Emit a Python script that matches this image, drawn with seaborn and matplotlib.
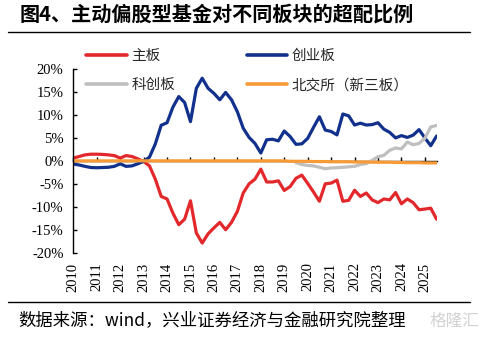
import numpy as np
import pandas as pd
import matplotlib
matplotlib.use("Agg")
import matplotlib.pyplot as plt
from matplotlib.lines import Line2D
import seaborn as sns

# Quarterly overweight ratios (%) of active equity funds by board, 2010Q1 onward
main_board = [0.6, 0.95, 1.3, 1.45, 1.45, 1.4, 1.3, 1.15, 0.6, 1.15, 0.95, 0.45,
              -0.15, -1.1, -4.0, -7.75, -8.3, -11.4, -13.9, -12.7, -8.7, -15.7,
              -17.9, -15.9, -14.6, -13.4, -15.0, -13.4, -11.0, -7.0, -5.0, -4.0,
              -1.8, -4.6, -4.6, -4.35, -6.45, -5.6, -3.8, -3.1, -4.9, -6.8, -8.8,
              -5.0, -4.85, -4.2, -8.8, -8.6, -6.4, -7.75, -7.0, -8.5, -9.1, -8.3,
              -8.5, -6.9, -9.35, -8.3, -9.1, -10.65, -10.5, -10.3, -12.7]
chinext = [-0.7, -0.9, -1.2, -1.45, -1.5, -1.45, -1.4, -1.2, -0.65, -1.2, -1.1, -0.65,
           -0.1, 0.8, 3.7, 7.75, 8.3, 11.7, 14.0, 12.7, 8.55, 15.8, 18.0, 15.8, 14.7,
           13.3, 14.9, 13.3, 10.7, 7.1, 5.1, 3.8, 1.7, 4.6, 4.7, 4.35, 6.5, 5.3, 3.6,
           3.7, 4.9, 7.3, 9.6, 6.7, 6.4, 5.65, 10.2, 9.8, 7.8, 8.2, 7.8, 7.9, 8.3, 6.9,
           6.2, 5.0, 5.5, 5.1, 5.6, 6.8, 5.0, 3.3, 5.4]
star_market = [np.nan] * 38 + [-0.4, -0.8, -1.0, -1.1, -1.4, -1.7, -1.55, -1.5, -1.4,
                               -1.3, -1.2, -0.8, -0.6, 0.1, 0.9, 1.2, 2.3, 2.8, 2.6,
                               4.1, 3.5, 3.8, 4.9, 7.4, 7.7]
bse_neeq = [0.0] * 37 + [-0.1, -0.1, -0.1, -0.1, -0.15, -0.15, -0.15, -0.2, -0.2,
                         -0.2, -0.2, -0.25, -0.25, -0.25, -0.3, -0.3, -0.3, -0.3,
                         -0.35, -0.35, -0.4, -0.4, -0.4, -0.45, -0.45, -0.45]

board_names = ["主板", "创业板", "科创板", "北交所（新三板）"]
board_colors = ["#E3282C", "#12318C", "#BFBFBF", "#F89A35"]
year_ticks = list(range(2010, 2026))
y_ticks = [20, 15, 10, 5, 0, -5, -10, -15, -20]

quarter_pos = 2010 + np.arange(len(main_board)) / 4

wide = pd.DataFrame({"pos": quarter_pos,
                     board_names[0]: main_board,
                     board_names[1]: chinext,
                     board_names[2]: star_market,
                     board_names[3]: bse_neeq})
long = wide.melt(id_vars="pos", var_name="board", value_name="ratio").dropna()

sns.set_theme(style="white")
plt.rcParams["font.family"] = ["Noto Sans CJK SC", "DejaVu Sans"]

fig = plt.figure(figsize=(4.87, 3.43), dpi=100)
ax = fig.add_axes([0.1505, 0.2633, 0.746, 0.5355])

sns.lineplot(data=long, x="pos", y="ratio", hue="board", hue_order=board_names,
             palette=dict(zip(board_names, board_colors)), linewidth=2.3,
             ax=ax, legend=True)
handles, labels = ax.get_legend_handles_labels()
ax.get_legend().remove()
for h in handles:
    h.set_linewidth(2.6)

ax.set_xlim(2010, 2025.5)
ax.set_ylim(-20, 20)
ax.set_xlabel("")
ax.set_ylabel("")

for side in ["top", "right", "bottom"]:
    ax.spines[side].set_visible(False)
ax.spines["left"].set_color("black")
ax.spines["left"].set_linewidth(1.0)

ax.set_yticks(y_ticks, labels=[f"{v}%" for v in y_ticks],
              fontfamily="Liberation Serif", fontsize=10.5)
ax.tick_params(axis="y", direction="in", length=3, width=1, color="black",
               pad=7, left=True, labelcolor="black")
ax.set_xticks(year_ticks, labels=[str(y) for y in year_ticks],
              fontfamily="Liberation Serif", fontsize=10.5, rotation=90)
ax.tick_params(axis="x", length=0, pad=7, labelcolor="black")
ax.grid(False)

# zero axis line carrying the year tick marks
zero_axis = ax.secondary_xaxis(0.5)
zero_axis.set_xticks(year_ticks)
zero_axis.tick_params(axis="x", direction="out", length=3.2, width=1,
                      color="black", labeltop=False, labelbottom=False)
for sp in zero_axis.spines.values():
    sp.set_color("black")
    sp.set_linewidth(1.0)

order = [0, 2, 1, 3]
fig.legend([handles[i] for i in order], [labels[i] for i in order], ncol=2,
           loc="upper left", bbox_to_anchor=(86 / 487, 1 - 49 / 343),
           frameon=False, borderpad=0, borderaxespad=0, handlelength=2.8,
           handletextpad=0.3, columnspacing=4.9, labelspacing=1.05, fontsize=10.5)

fig.text(20 / 487, 1 - 14 / 343, "图4、主动偏股型基金对不同板块的超配比例",
         fontsize=14.5, fontweight="bold", ha="left", va="center", color="black")
fig.add_artist(Line2D([8 / 487, 470 / 487], [1 - 31.7 / 343] * 2,
                      color="black", linewidth=1.0))
fig.add_artist(Line2D([8 / 487, 470 / 487], [1 - 302.3 / 343] * 2,
                      color="black", linewidth=1.0))
fig.text(18 / 487, 1 - 320 / 343, "数据来源：wind，兴业证券经济与金融研究院整理",
         fontsize=12.5, ha="left", va="center", color="black")
fig.text(479 / 487, 1 - 321 / 343, "格隆汇", fontsize=12, ha="right", va="center",
         color="#D2D2D2")

fig.savefig("out.png", dpi=100)
